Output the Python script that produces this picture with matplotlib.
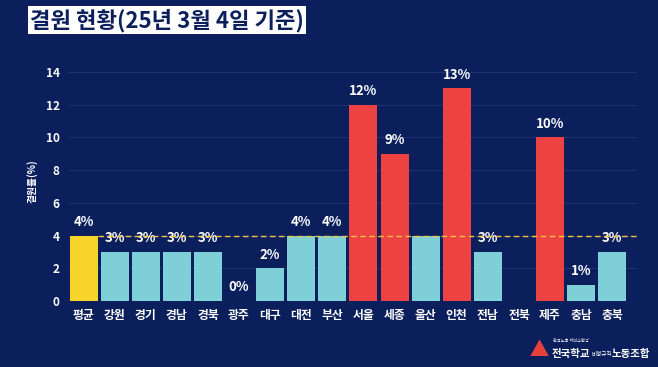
import matplotlib.pyplot as plt
from matplotlib.patches import Polygon

plt.rcParams['font.family'] = ['Noto Sans CJK KR', 'DejaVu Sans']

# Dane
regiony = ['평균', '강원', '경기', '경남', '경북', '광주', '대구', '대전', '부산',
           '서울', '세종', '울산', '인천', '전남', '전북', '제주', '충남', '충북']
wartosci = [4, 3, 3, 3, 3, 0, 2, 4, 4, 12, 9, 4, 13, 3, 0, 10, 1, 3]
etykiety = ['4%', '3%', '3%', '3%', '3%', '0%', '2%', '4%', '4%',
            '12%', '9%', '', '13%', '3%', '', '10%', '1%', '3%']
srednia = 4

tlo = '#0b1f5c'
kolory = []
for r, v in zip(regiony, wartosci):
    if r == '평균':
        kolory.append('#f6d42a')
    elif v > srednia:
        kolory.append('#ee4242')
    else:
        kolory.append('#7ecfd8')

fig = plt.figure(figsize=(6.58, 3.67), dpi=100, facecolor=tlo)
ax = fig.add_axes([0.1033, 0.1798, 0.865, 0.651], facecolor=tlo)

x = range(len(regiony))
ax.bar(x, wartosci, width=0.9, color=kolory, zorder=2)
for i, (v, t) in enumerate(zip(wartosci, etykiety)):
    if t:
        ax.text(i, v + 0.4, t, ha='center', va='bottom', color='white',
                fontsize=9.5, fontweight='bold')

ax.plot([0.45, 17.8], [srednia, srednia], color='#f5c542', lw=1.0,
        dashes=(4, 2.5), zorder=3)

ax.set_xlim(-0.5, 17.8)
ax.set_ylim(0, 14.6)
ax.set_yticks(range(0, 15, 2))
ax.set_xticks(list(x))
ax.set_xticklabels(regiony)
ax.tick_params(colors='white', length=0, labelsize=8.5, pad=6)
for lab in ax.get_xticklabels() + ax.get_yticklabels():
    lab.set_fontweight('bold')
ax.grid(axis='y', color='#22366e', lw=0.6, zorder=0)
for s in ax.spines.values():
    s.set_visible(False)
ax.set_ylabel('결원률(%)', color='white', fontsize=7, fontweight='bold', labelpad=6)

# Tytuł w białej ramce
fig.text(0.046, 0.945, '결원 현황(25년 3월 4일 기준)', color='#0b1f5c',
         fontsize=16, fontweight='heavy', va='center', ha='left',
         bbox=dict(facecolor='white', edgecolor='none', pad=1.5))

# Logo
tri = Polygon([[0.806, 0.030], [0.834, 0.030], [0.820, 0.075]], closed=True,
              transform=fig.transFigure, facecolor='#e8413c', edgecolor='none')
fig.patches.append(tri)
fig.text(0.840, 0.070, '한국노총 서비스연맹', color='white', fontsize=3, va='center')
fig.text(0.838, 0.035, '전국학교', color='white', fontsize=7.5, fontweight='bold', va='center')
fig.text(0.899, 0.035, '비정규직', color='white', fontsize=4, va='center')
fig.text(0.929, 0.035, '노동조합', color='white', fontsize=7.5, fontweight='bold', va='center')

fig.savefig('out.png', dpi=100, facecolor=tlo)
